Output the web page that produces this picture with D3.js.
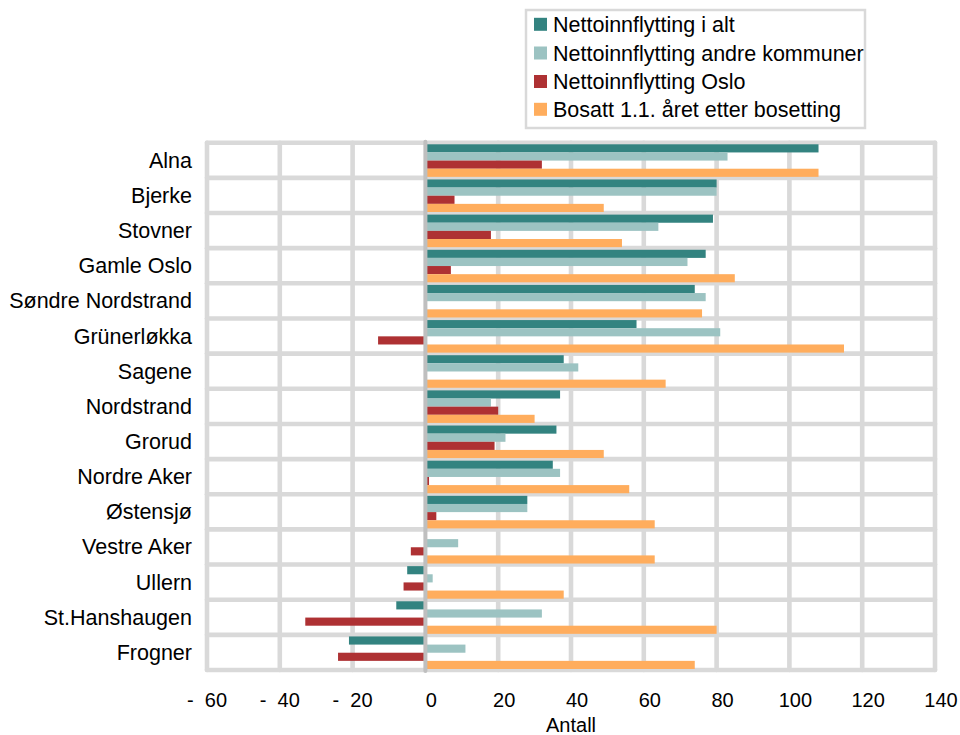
<!DOCTYPE html>
<html><head><meta charset="utf-8">
<script src="https://cdn.jsdelivr.net/npm/d3@7"></script>
<style>body{margin:0;background:#fff}svg{display:block}text{font-family:"Liberation Sans",Arial,sans-serif;fill:#000;white-space:pre}</style>
</head><body><svg id="c" width="960" height="735"></svg>
<script>
const categories = ["Alna","Bjerke","Stovner","Gamle Oslo","Søndre Nordstrand","Grünerløkka","Sagene","Nordstrand","Grorud","Nordre Aker","Østensjø","Vestre Aker","Ullern","St.Hanshaugen","Frogner"];
const seriesNames = ["Nettoinnflytting i alt","Nettoinnflytting andre kommuner","Nettoinnflytting Oslo","Bosatt 1.1. året etter bosetting"];
const total  = [108, 80, 79, 77, 74, 58, 38, 37, 36, 35, 28, 0, -5, -8, -21];
const andre  = [83, 80, 64, 72, 77, 81, 42, 18, 22, 37, 28, 9, 2, 32, 11];
const oslo   = [32, 8, 18, 7, 0, -13, 0, 20, 19, 1, 3, -4, -6, -33, -24];
const bosatt = [108, 49, 54, 85, 76, 115, 66, 30, 49, 56, 63, 63, 38, 80, 74];
const tickValues = [-60,-40,-20,0,20,40,60,80,100,120,140];
const tickLabels = ["-  60","-  40","-  20","0","20","40","60","80","100","120","140"];
const colors = ["#338380","#9cc3c2","#ae3133","#ffad5d"];
const axisTitle = "Antall";

const values = [total, andre, oslo, bosatt];
const svg = d3.select("#c");
const L = 207, R = 935, T = 142.7, B = 670;
const x = d3.scaleLinear().domain([-60,140]).range([L,R]);
const y = d3.scaleBand().domain(categories).range([T,B]).padding(0);
const bw = y.bandwidth();
const ys = d3.scaleBand().domain(d3.range(4)).range([1.6, bw-1.0]).padding(0);

const grid = svg.append("g");
grid.selectAll("line.v").data(tickValues.filter(v=>v!==0)).join("line")
  .attr("x1",d=>x(d)).attr("x2",d=>x(d)).attr("y1",T).attr("y2",B)
  .attr("stroke","#d9d9d9").attr("stroke-width",4.6).attr("stroke-linecap","round");
const bounds = categories.map(c=>y(c)).concat([B]);
grid.selectAll("line.h").data(bounds).join("line")
  .attr("x1",L).attr("x2",R).attr("y1",d=>d).attr("y2",d=>d)
  .attr("stroke","#d9d9d9").attr("stroke-width",4.6).attr("stroke-linecap","round");

const bars = svg.append("g");
values.forEach((arr,si)=>{
  bars.selectAll("rect.s"+si).data(arr.map((v,i)=>({v,c:categories[i]}))).join("rect")
    .attr("x",d=>Math.min(x(d.v),x(0)))
    .attr("width",d=>Math.abs(x(d.v)-x(0)))
    .attr("y",d=>y(d.c)+ys(si))
    .attr("height",ys.bandwidth())
    .attr("fill",colors[si]);
});

svg.append("line").attr("x1",x(0)).attr("x2",x(0)).attr("y1",T-1).attr("y2",B+1)
  .attr("stroke","#bfbfbf").attr("stroke-width",4).attr("stroke-linecap","round");

svg.append("g").selectAll("text").data(categories).join("text")
  .attr("x",192).attr("y",d=>y(d)+bw/2).attr("dy","0.35em")
  .attr("text-anchor","end").attr("font-size",21.5).text(d=>d);

svg.append("g").selectAll("text").data(tickValues).join("text")
  .attr("x",(d)=>x(d)+(d>=0?6:0)).attr("y",699.5).attr("dy","0.35em")
  .attr("text-anchor","middle").attr("font-size",20).text((d,i)=>tickLabels[i]);

svg.append("text").attr("x",(L+R)/2).attr("y",725).attr("dy","0.35em")
  .attr("text-anchor","middle").attr("font-size",20).text(axisTitle);

const lg = svg.append("g");
lg.append("rect").attr("x",526).attr("y",10).attr("width",339).attr("height",118)
  .attr("fill","#fff").attr("stroke","#d9d9d9").attr("stroke-width",2.5);
const ly = [24.3,53,81.5,109.3];
seriesNames.forEach((n,i)=>{
  lg.append("rect").attr("x",534).attr("y",ly[i]-6.5).attr("width",13).attr("height",13).attr("fill",colors[i]);
  lg.append("text").attr("x",553).attr("y",ly[i]).attr("dy","0.35em").attr("font-size",21.5).text(n);
});
</script></body></html>
